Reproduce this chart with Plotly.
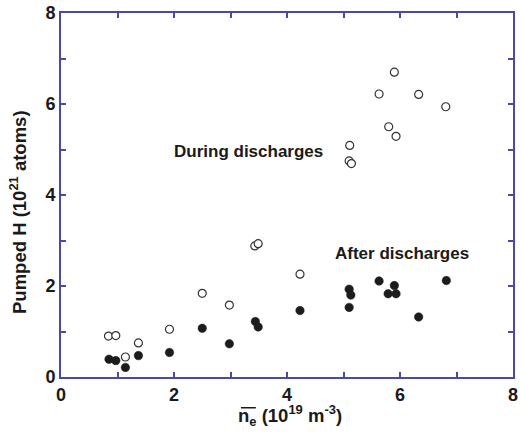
import plotly.graph_objects as go

# During discharges (open circles)
during_x = [0.84, 0.97, 1.14, 1.37, 1.92, 2.50, 2.98, 3.43, 3.49, 4.23,
            5.11, 5.10, 5.14, 5.63, 5.80, 5.90, 5.93, 6.33, 6.81]
during_y = [0.90, 0.91, 0.44, 0.75, 1.05, 1.84, 1.58, 2.88, 2.93, 2.26,
            5.09, 4.75, 4.69, 6.22, 5.50, 6.70, 5.29, 6.21, 5.94]

# After discharges (filled circles)
after_x = [0.85, 0.97, 1.14, 1.37, 1.92, 2.50, 2.98, 3.44, 3.49, 4.23,
           5.10, 5.13, 5.10, 5.63, 5.79, 5.90, 5.93, 6.33, 6.82]
after_y = [0.39, 0.36, 0.21, 0.47, 0.54, 1.07, 0.73, 1.22, 1.10, 1.46,
           1.93, 1.80, 1.53, 2.11, 1.83, 2.01, 1.83, 1.32, 2.12]

x_ticks = [0, 2, 4, 6, 8]
y_ticks = [0, 2, 4, 6, 8]

axis_color = "#4a4aa0"
text_color = "#1a1a1a"
font_family = "Liberation Sans, Arial, sans-serif"

fig = go.Figure()
fig.add_trace(go.Scatter(
    x=during_x, y=during_y, mode="markers", name="During discharges",
    marker=dict(symbol="circle", size=8, color="white",
                line=dict(color="#333333", width=1.2)),
))
fig.add_trace(go.Scatter(
    x=after_x, y=after_y, mode="markers", name="After discharges",
    marker=dict(symbol="circle", size=8.5, color="#1c1c1c",
                line=dict(color="#1c1c1c", width=0.5)),
))

axis_common = dict(
    showline=True, linecolor=axis_color, linewidth=2, mirror="ticks",
    ticks="inside", ticklen=5, tickwidth=1.5, tickcolor=axis_color,
    showgrid=False, zeroline=False, ticklabeloverflow="allow",
    tickfont=dict(size=18, color=text_color, family=font_family, weight="bold"),
    minor=dict(ticks="inside", ticklen=5, tickwidth=1.5, tickcolor=axis_color, dtick=1),
)

fig.update_xaxes(range=[0, 8], tickvals=x_ticks, ticktext=[str(v) for v in x_ticks],
                 **axis_common)
fig.update_yaxes(range=[0, 8], tickvals=y_ticks, ticktext=[str(v) for v in y_ticks],
                 **axis_common)

fig.add_annotation(x=3.31, y=4.95, xref="x", yref="y", showarrow=False,
                   text="<b>During discharges</b>",
                   font=dict(size=17, color=text_color, family=font_family))
fig.add_annotation(x=6.04, y=2.72, xref="x", yref="y", showarrow=False,
                   text="<b>After discharges</b>",
                   font=dict(size=17, color=text_color, family=font_family))

# Axis titles
fig.add_annotation(x=-0.094, y=0.452, xref="paper", yref="paper", showarrow=False,
                   textangle=-90, xanchor="center", yanchor="middle",
                   text="<b>Pumped H (10<sup>21</sup> atoms)</b>",
                   font=dict(size=18.5, color=text_color, family=font_family))
fig.add_annotation(x=0.507, y=-0.106, xref="paper", yref="paper", showarrow=False,
                   xanchor="center", yanchor="middle",
                   text="<b>n<sub>e</sub> (10<sup>19</sup> m<sup>-3</sup>)</b>",
                   font=dict(size=18.5, color=text_color, family=font_family))
# overline over n_e
fig.add_shape(type="line", xref="paper", yref="paper",
              x0=0.398, x1=0.431, y0=-0.0845, y1=-0.0845,
              line=dict(color=text_color, width=1.5))

fig.update_layout(
    width=521, height=434,
    margin=dict(l=61, r=3, t=10, b=57),
    paper_bgcolor="white", plot_bgcolor="white",
    showlegend=False,
)

fig.write_html(
    "out.html",
    config={"displayModeBar": False},
    post_script=(
        "document.body.style.margin='0';"
        "document.body.style.overflow='hidden';"
        "document.documentElement.style.overflow='hidden';"
    ),
)
